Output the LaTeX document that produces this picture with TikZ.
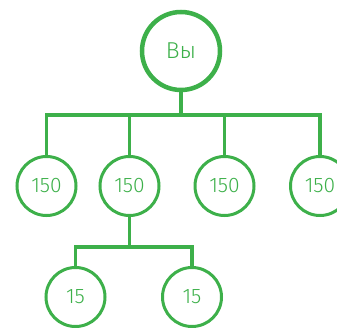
\documentclass[tikz,border=0pt]{standalone}
\usepackage{fontspec}
\setmainfont{Fira Sans}[UprightFont={* Light}]
\definecolor{gr}{HTML}{3DB04A}
\begin{document}
\begin{tikzpicture}[x=1pt,y=-1pt,
  bignode/.style={circle,draw=gr,line width=4.5pt,minimum size=78pt,inner sep=0pt,text=gr,font=\fontsize{23}{23}\selectfont},
  numnode/.style={circle,draw=gr,line width=3pt,minimum size=59pt,inner sep=0pt,text=gr,font=\fontsize{21}{21}\selectfont},
  conn/.style={draw=gr,line width=3.2pt}]
\useasboundingbox (0,0) rectangle (337,328);
\begin{scope}
\clip (0,0) rectangle (337,328);
\node[bignode] (you) at (181,51) {Вы};
\node[numnode] (a) at (46.5,186) {150};
\node[numnode] (b) at (129.5,186) {150};
\node[numnode] (c) at (224.5,186) {150};
\node[numnode] (d) at (320,186) {150};
\node[numnode] (e) at (75.5,297) {15};
\node[numnode] (f) at (192,297) {15};
\coordinate (bar) at (181,115);
\coordinate (bar2) at (129.5,247);
\draw[conn] (you.south) -- (bar);
\draw[conn,line cap=rect] (a.north) |- (bar) -| (d.north);
\draw[conn] (b.north) -- (b.north |- bar);
\draw[conn] (c.north) -- (c.north |- bar);
\draw[conn] (b.south) -- (bar2);
\draw[conn] (e.north) |- (bar2) -| (f.north);
\end{scope}
\end{tikzpicture}
\end{document}
